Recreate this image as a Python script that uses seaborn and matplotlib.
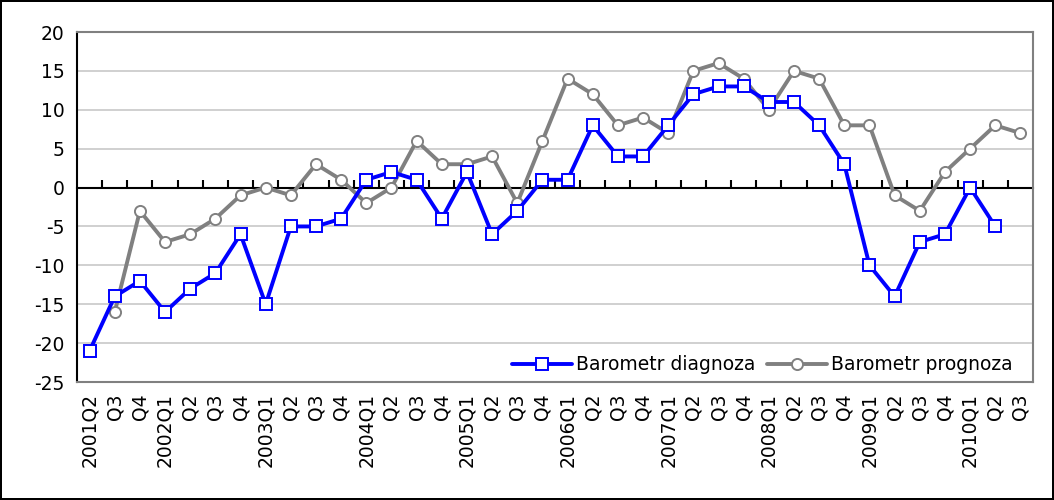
import numpy as np
import pandas as pd
import matplotlib
matplotlib.use("Agg")
import matplotlib.pyplot as plt
import seaborn as sns

# Data
kwartaly = ["2001Q2", "Q3", "Q4",
            "2002Q1", "Q2", "Q3", "Q4",
            "2003Q1", "Q2", "Q3", "Q4",
            "2004Q1", "Q2", "Q3", "Q4",
            "2005Q1", "Q2", "Q3", "Q4",
            "2006Q1", "Q2", "Q3", "Q4",
            "2007Q1", "Q2", "Q3", "Q4",
            "2008Q1", "Q2", "Q3", "Q4",
            "2009Q1", "Q2", "Q3", "Q4",
            "2010Q1", "Q2", "Q3"]

diagnoza = [-21, -14, -12,
            -16, -13, -11, -6,
            -15, -5, -5, -4,
            1, 2, 1, -4,
            2, -6, -3, 1,
            1, 8, 4, 4,
            8, 12, 13, 13,
            11, 11, 8, 3,
            -10, -14, -7, -6,
            0, -5, np.nan]

prognoza = [np.nan, -16, -3,
            -7, -6, -4, -1,
            0, -1, 3, 1,
            -2, 0, 6, 3,
            3, 4, -2, 6,
            14, 12, 8, 9,
            7, 15, 16, 14,
            10, 15, 14, 8,
            8, -1, -3, 2,
            5, 8, 7]

nazwy = ["Barometr diagnoza", "Barometr prognoza"]

df = pd.DataFrame({"poz": np.arange(len(kwartaly)),
                   "diagnoza": diagnoza,
                   "prognoza": prognoza})

sns.set_style("white")
plt.rcParams["font.family"] = ["DejaVu Sans"]
plt.rcParams["axes.unicode_minus"] = False
plt.rcParams["text.color"] = "black"
plt.rcParams["xtick.color"] = "black"
plt.rcParams["ytick.color"] = "black"
FS = 13.5

fig = plt.figure(figsize=(10.54, 5.0), dpi=100)
fig.patch.set_facecolor("white")
fig.patch.set_edgecolor("black")
fig.patch.set_linewidth(1.5)
ax = fig.add_axes([77 / 1054, 1 - 382 / 500, (1033 - 77) / 1054, (382 - 32) / 500])

sns.lineplot(data=df, x="poz", y="diagnoza", ax=ax, color="#0000ff", linewidth=2.8,
             marker="s", markersize=8, markerfacecolor="white", markeredgecolor="#0000ff",
             markeredgewidth=1.4, label=nazwy[0], zorder=4)
sns.lineplot(data=df, x="poz", y="prognoza", ax=ax, color="#808080", linewidth=2.8,
             marker="o", markersize=8, markerfacecolor="white", markeredgecolor="#808080",
             markeredgewidth=1.4, label=nazwy[1], zorder=3)

ax.set_xlim(-0.5, len(kwartaly) - 0.5)
ax.set_ylim(-25, 20)
ax.set_yticks(np.arange(-25, 21, 5))
ax.set_xticks(np.arange(len(kwartaly)))
ax.set_xticklabels(kwartaly, rotation=90, fontsize=FS, color="black")
ax.tick_params(axis="x", length=0, pad=8, labelcolor="black")
ax.tick_params(axis="y", length=6, width=1.2, color="black", direction="out",
               labelsize=FS, pad=3, labelcolor="black")
ax.set_xlabel("")
ax.set_ylabel("")

for y in np.arange(-20, 21, 5):
    if y != 0:
        ax.axhline(y, color="#c8c8c8", linewidth=1.2, zorder=0)

for s in ["top", "right", "bottom"]:
    ax.spines[s].set_color("#808080")
    ax.spines[s].set_linewidth(1.5)
ax.spines["left"].set_color("black")
ax.spines["left"].set_linewidth(1.5)

# zero axis with category boundary ticks
sec = ax.secondary_xaxis(25 / 45)
sec.set_xticks(np.arange(len(kwartaly) - 1) + 0.5)
sec.set_xticklabels([])
sec.tick_params(axis="x", length=6, width=1.5, color="black", direction="out")
for s in sec.spines.values():
    s.set_color("black")
    s.set_linewidth(1.5)

leg = ax.legend(loc="lower right", ncol=2, frameon=False, fontsize=FS,
                handlelength=3.2, handletextpad=0.2, columnspacing=0.6,
                borderaxespad=0.2, bbox_to_anchor=(0.99, -0.01))
for t in leg.get_texts():
    t.set_color("black")

fig.savefig("out.png", dpi=100, facecolor="white", edgecolor="black")
